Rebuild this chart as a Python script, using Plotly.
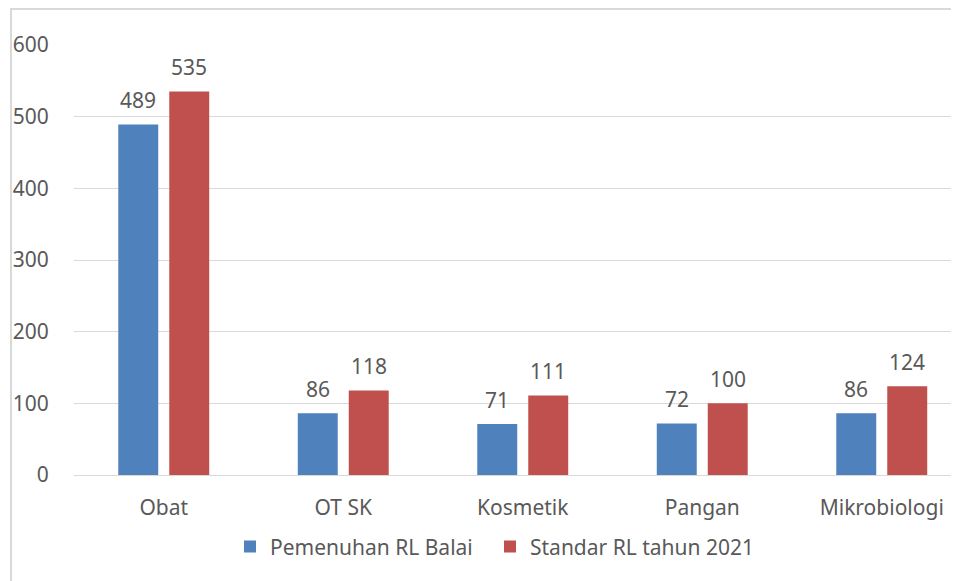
import plotly.graph_objects as go

categories = ["Obat", "OT SK", "Kosmetik", "Pangan", "Mikrobiologi"]
pemenuhan = [489, 86, 71, 72, 86]
standar = [535, 118, 111, 100, 124]
series_names = ["Pemenuhan RL Balai", "Standar RL tahun 2021"]
y_ticks = [0, 100, 200, 300, 400, 500, 600]

FONT = "Noto Sans"
TXT = "#595959"

fig = go.Figure()
fig.add_trace(go.Bar(
    x=categories, y=pemenuhan, name=series_names[0],
    marker=dict(color="#4F81BD", line=dict(width=0)),
))
fig.add_trace(go.Bar(
    x=categories, y=standar, name=series_names[1],
    marker=dict(color="#C0504D", line=dict(width=0)),
))

PL, PT, PH = 66, 37, 430
PW = 959 - PL
CAT_W = 179.5  # pixel width of one category band
BARGAP = 0.432
slot = (1 - BARGAP) * CAT_W / 2

annotations = []
for series, shift in ((pemenuhan, -slot / 2), (standar, slot / 2)):
    for cat, val in zip(categories, series):
        annotations.append(dict(
            x=cat, y=val, xref="x", yref="y", text=str(val), showarrow=False,
            xshift=shift, yshift=24.5, yanchor="middle", xanchor="center",
            font=dict(family=FONT, size=21, color=TXT),
        ))

fig.update_layout(
    width=959, height=581,
    margin=dict(l=PL, r=0, t=PT, b=581 - PT - PH, autoexpand=False),
    paper_bgcolor="white", plot_bgcolor="white",
    barmode="group", bargap=BARGAP, bargroupgap=0.216,
    font=dict(family=FONT, size=21, color=TXT),
    showlegend=True,
    legend=dict(orientation="h", x=(222 - PL) / PW, xanchor="left", y=-0.167, yanchor="middle",
                font=dict(family=FONT, size=21, color=TXT), itemwidth=30,
                entrywidth=215, entrywidthmode="pixels", traceorder="normal"),
    xaxis=dict(showline=False, ticks="outside", ticklen=14, tickcolor="rgba(0,0,0,0)",
               range=[-0.5, -0.5 + PW / CAT_W],
               tickfont=dict(family=FONT, size=21, color=TXT)),
    yaxis=dict(range=[0, 600], tickvals=y_ticks, showgrid=True, gridcolor="#D9D9D9",
               gridwidth=1, zeroline=True, zerolinecolor="#D9D9D9", zerolinewidth=1,
               ticks="outside", ticklen=20, tickcolor="rgba(0,0,0,0)",
               tickfont=dict(family=FONT, size=21, color=TXT)),
    annotations=annotations,
    shapes=[dict(type="rect", xref="paper", yref="paper",
                 x0=(3 - PL) / PW, x1=1.2, y0=-0.4, y1=1 + (PT - 1) / PH,
                 line=dict(color="#D9D9D9", width=2), fillcolor="rgba(0,0,0,0)", layer="below")],
)

fig.write_html("out.html")
